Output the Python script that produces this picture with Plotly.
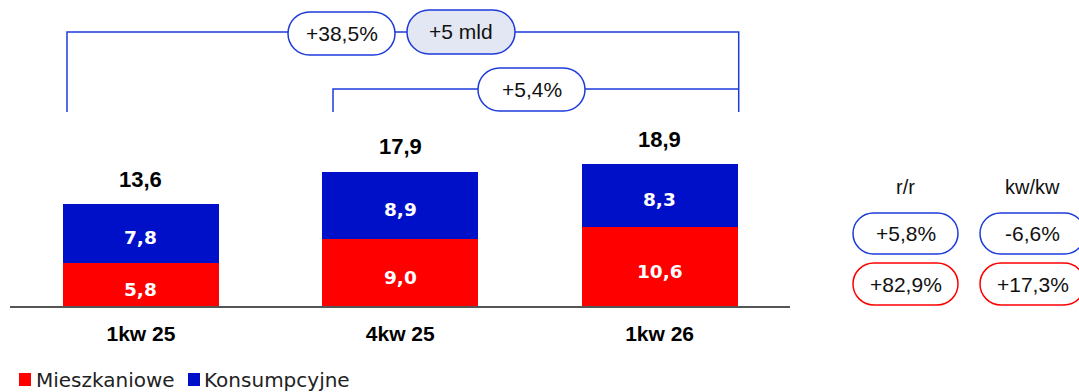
import plotly.graph_objects as go

# --- data ---------------------------------------------------------------
categories = ["1kw 25", "4kw 25", "1kw 26"]
mieszkaniowe = [5.8, 9.0, 10.6]
konsumpcyjne = [7.8, 8.9, 8.3]
totals = [13.6, 17.9, 18.9]

bracket_labels = ["+38,5%", "+5 mld", "+5,4%"]
table_headers = ["r/r", "kw/kw"]
table_mieszkaniowe = ["+82,9%", "+17,3%"]
table_konsumpcyjne = ["+5,8%", "-6,6%"]

# --- styling ------------------------------------------------------------
W, H = 1079, 392
RED = "#ff0000"
BLUE = "#0010c8"
LINE_BLUE = "#1c3bdb"
PILL_FILL = "#e3e7f3"
AXIS_GREY = "#555555"
TEXT = "#111111"


def X(px):
    return px / W


def Y(py):
    return 1 - py / H


def fmt(v):
    return f"{v:.1f}".replace(".", ",")


def pill(x0, y0, x1, y1, color, fill="white", width=1.5):
    """Rounded (stadium) outline between pixel corners, as a paper-ref path."""
    r = (y1 - y0) / 2
    cy = (y0 + y1) / 2
    k = 0.5523 * r
    pts = [
        ("M", [(x0 + r, y0)]),
        ("L", [(x1 - r, y0)]),
        ("C", [(x1 - r + k, y0), (x1, cy - k), (x1, cy)]),
        ("C", [(x1, cy + k), (x1 - r + k, y1), (x1 - r, y1)]),
        ("L", [(x0 + r, y1)]),
        ("C", [(x0 + r - k, y1), (x0, cy + k), (x0, cy)]),
        ("C", [(x0, cy - k), (x0 + r - k, y0), (x0 + r, y0)]),
    ]
    path = " ".join(
        cmd + " " + " ".join(f"{X(a):.5f},{Y(b):.5f}" for a, b in p) for cmd, p in pts
    ) + " Z"
    return dict(type="path", xref="paper", yref="paper", path=path,
                line=dict(color=color, width=width), fillcolor=fill, layer="above")


def polyline(points, color=LINE_BLUE, width=1.5):
    path = "M " + " L ".join(f"{X(a):.5f},{Y(b):.5f}" for a, b in points)
    return dict(type="path", xref="paper", yref="paper", path=path,
                line=dict(color=color, width=width), layer="above")


def label(px, py, text, size=21, color=TEXT, family="Liberation Sans", xanchor="center"):
    return dict(x=X(px), y=Y(py), xref="paper", yref="paper", text=text,
                showarrow=False, xanchor=xanchor, yanchor="middle",
                font=dict(family=family, size=size, color=color))


xs = list(range(len(categories)))

fig = go.Figure()
fig.add_trace(go.Bar(
    x=xs, y=mieszkaniowe, name="Mieszkaniowe", marker=dict(color=RED, line=dict(width=0)),
    width=0.602, hoverinfo="skip",
))
fig.add_trace(go.Bar(
    x=xs, y=konsumpcyjne, name="Konsumpcyjne", marker=dict(color=BLUE, line=dict(width=0)),
    width=0.602, hoverinfo="skip",
))

annotations = []
seg_font = dict(family="DejaVu Sans", size=18.5, color="white", weight="bold")
for x, m, k, t in zip(xs, mieszkaniowe, konsumpcyjne, totals):
    # segment values, centred in each segment (slightly below the midpoint)
    annotations.append(dict(x=x, y=m / 2, xref="x", yref="y", text=fmt(m),
                            showarrow=False, yanchor="middle", yshift=-5, font=seg_font))
    annotations.append(dict(x=x, y=m + k / 2, xref="x", yref="y", text=fmt(k),
                            showarrow=False, yanchor="middle", yshift=-4, font=seg_font))
    # total above each stack
    annotations.append(dict(
        x=x, y=t, xref="x", yref="y", text=f"<b>{fmt(t)}</b>",
        showarrow=False, yanchor="middle", yshift=25,
        font=dict(family="Liberation Sans", size=22, color="black"),
    ))

shapes = []
# brackets comparing quarters
shapes.append(polyline([(67, 112), (67, 32), (738.7, 32), (738.7, 112)]))
shapes.append(polyline([(333, 112), (333, 89), (738.7, 89)]))
shapes.append(pill(288, 12, 395, 55, LINE_BLUE))
shapes.append(pill(407, 10, 515, 54, LINE_BLUE, fill=PILL_FILL))
shapes.append(pill(478, 68, 585, 111, LINE_BLUE))
annotations.append(label(341.5, 33.5, bracket_labels[0]))
annotations.append(label(461, 32, bracket_labels[1]))
annotations.append(label(531.5, 89.5, bracket_labels[2]))

# side table of growth rates
col_x = [905.5, 1032.5]
for cx, head, kons, mies in zip(col_x, table_headers, table_konsumpcyjne, table_mieszkaniowe):
    annotations.append(label(cx, 187, head, size=20))
    shapes.append(pill(cx - 52.5, 213, cx + 52.5, 254, LINE_BLUE))
    shapes.append(pill(cx - 52.5, 263, cx + 52.5, 305, RED))
    annotations.append(label(cx, 233.5, kons))
    annotations.append(label(cx, 284, mies))

# legend
shapes.append(dict(type="rect", xref="paper", yref="paper", x0=X(19), x1=X(31),
                   y0=Y(386), y1=Y(373), fillcolor=RED, line=dict(width=0)))
shapes.append(dict(type="rect", xref="paper", yref="paper", x0=X(188), x1=X(200),
                   y0=Y(386), y1=Y(373), fillcolor=BLUE, line=dict(width=0)))
annotations.append(label(34, 379.5, "Mieszkaniowe", size=20, family="DejaVu Sans",
                         color="#222222", xanchor="left"))
annotations.append(label(202, 379.5, "Konsumpcyjne", size=20, family="DejaVu Sans",
                         color="#222222", xanchor="left"))

fig.update_layout(
    width=W, height=H,
    margin=dict(l=0, r=0, t=0, b=0),
    paper_bgcolor="white", plot_bgcolor="white",
    barmode="stack", bargap=0,
    separators=", ",
    showlegend=False,
    shapes=shapes,
    annotations=annotations,
    xaxis=dict(
        domain=[X(10), X(790)], range=[-0.505, 2.503],
        tickvals=xs, ticktext=[f"<b>{c}</b>" for c in categories],
        tickfont=dict(family="Liberation Sans", size=21, color="black"),
        showline=True, linecolor=AXIS_GREY, linewidth=2,
        showgrid=False, zeroline=False, ticks="", ticklabelstandoff=8,
        fixedrange=True,
    ),
    yaxis=dict(
        domain=[1 - 306 / H, 1], range=[0, 306 / 7.5],
        visible=False, showgrid=False, zeroline=False, fixedrange=True,
    ),
)

fig.write_html("out.html")
